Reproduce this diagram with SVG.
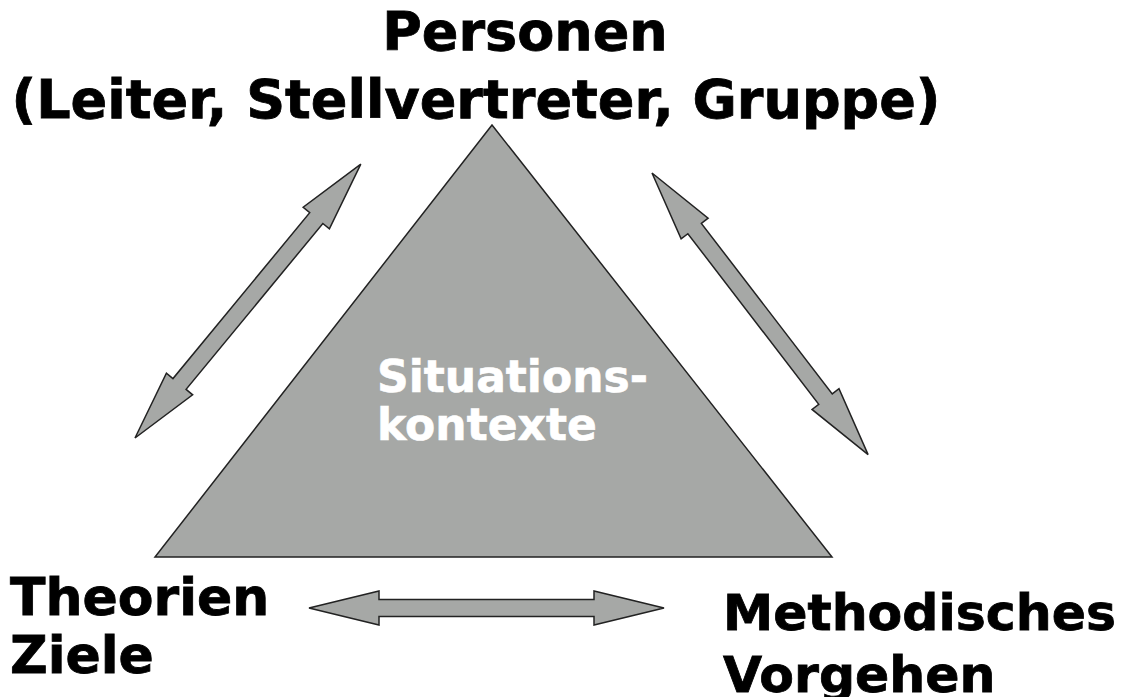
<svg xmlns="http://www.w3.org/2000/svg" width="1127" height="697" viewBox="0 0 1127 697">
<style>
.lbl{font-family:"DejaVu Sans","Verdana",sans-serif;font-weight:bold;fill:#000;stroke:#000;stroke-width:0.8}
.in{font-family:"DejaVu Sans","Verdana",sans-serif;font-weight:bold;fill:#fff;stroke:#fff;stroke-width:0.6}
.shape{fill:#a6a8a6;stroke:#222;stroke-width:1.5;stroke-linejoin:miter}
</style>
<defs>
<path id="dbl" d="M0,0 L70,-17 L70,-8.5 L285,-8.5 L285,-17 L355,0 L285,17 L285,8.5 L70,8.5 L70,17 Z"/>
</defs>
<rect width="1127" height="697" fill="#fff"/>
<g id="triangle">
<polygon class="shape" points="492,125 155,557 832,557"/>
<text class="in" x="377" y="392" font-size="44">Situations-</text>
<text class="in" x="377" y="440" font-size="44">kontexte</text>
</g>
<g id="personen">
<text class="lbl" x="525" y="50" font-size="54" text-anchor="middle">Personen</text>
<text class="lbl" x="476" y="118" font-size="54" text-anchor="middle">(Leiter, Stellvertreter, Gruppe)</text>
</g>
<g id="theorien">
<text class="lbl" x="10" y="615" font-size="52">Theorien</text>
<text class="lbl" x="10" y="673" font-size="52">Ziele</text>
</g>
<g id="methodisches">
<text class="lbl" x="723" y="630" font-size="50.5">Methodisches</text>
<text class="lbl" x="723" y="692" font-size="50.5">Vorgehen</text>
</g>
<g id="connectors">
<use href="#dbl" class="shape" transform="translate(135,438) rotate(-50.5)"/>
<use href="#dbl" class="shape" transform="translate(652,173) rotate(52.5)"/>
<use href="#dbl" class="shape" transform="translate(309,608)"/>
</g>
</svg>
